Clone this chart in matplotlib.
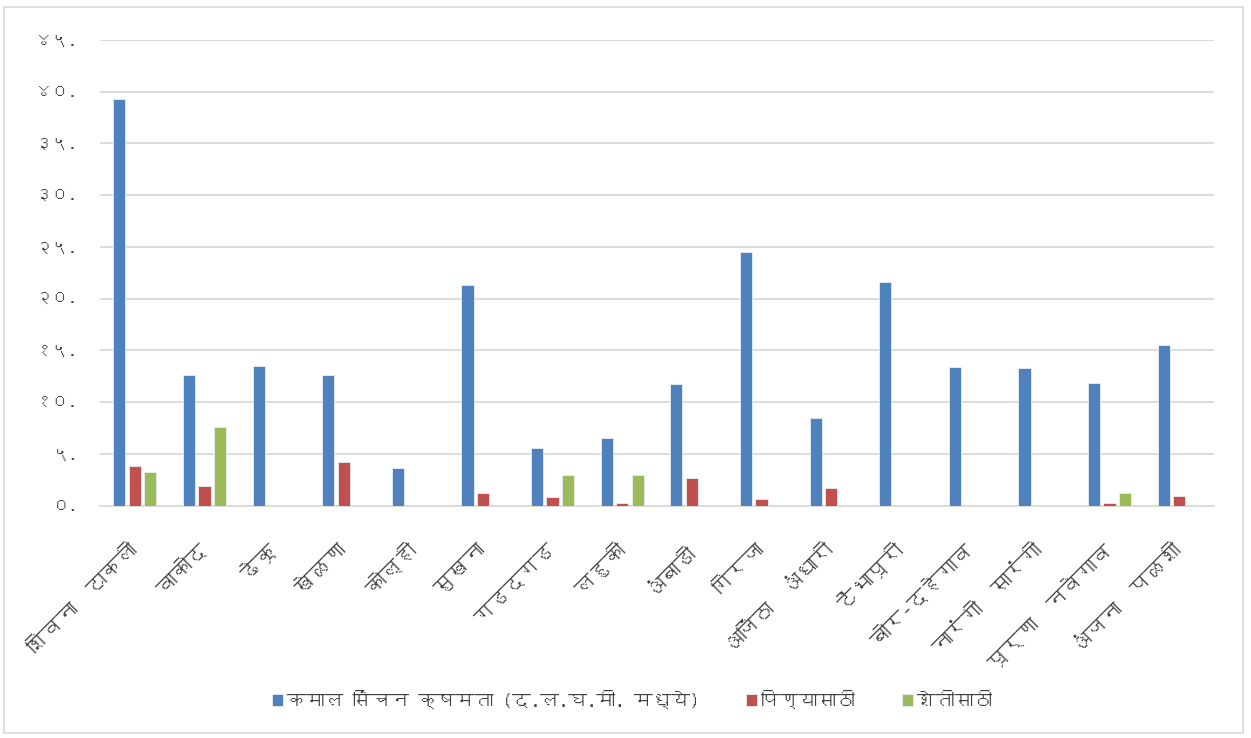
import numpy as np
import matplotlib
matplotlib.use('Agg')
import matplotlib.pyplot as plt
from matplotlib import font_manager
from matplotlib.ft2font import FT2Font
from matplotlib.patches import Rectangle

# data
dams = ['शिवना  टाकली', 'वाकोद', 'ढेकू', 'खेळणा', 'कोल्ही', 'सुखना', 'गडदगड', 'लहुकी',
        'अंबाडी', 'गिरजा', 'अजिंठा  अंधारी', 'टेंभापूरी', 'बोर-दहेगाव', 'नारंगी  सारंगी',
        'पूर्णा  नवेगाव', 'अंजना  पळशी']
capacity = [39.3, 12.6, 13.5, 12.6, 3.6, 21.3, 5.55, 6.55, 11.75, 24.5, 8.5, 21.6, 13.4, 13.3, 11.85, 15.5]
drinking = [3.8, 1.9, 0, 4.2, 0, 1.2, 0.8, 0.23, 2.7, 0.65, 1.7, 0, 0, 0, 0.3, 0.9]
farming = [3.3, 7.65, 0, 0, 0, 0, 3.0, 3.0, 0, 0, 0, 0, 0, 0, 1.2, 0]
series_names = ['कमाल सिंचन क्षमता (द.ल.घ.मी. मध्ये)', 'पिण्यासाठी', 'शेतीसाठी']
ytick_values = [0, 5, 10, 15, 20, 25, 30, 35, 40, 45]
ytick_labels = ['०.', '५.', '१०.', '१५.', '२०.', '२५.', '३०.', '३५.', '४०.', '४५.']


def find_devanagari_font():
    # look for any installed font that has Devanagari glyphs
    for f in font_manager.fontManager.ttflist:
        try:
            cmap = FT2Font(f.fname).get_charmap()
        except Exception:
            continue
        if 0x0915 in cmap and 0x0967 in cmap:
            return f.name
    return None


deva = find_devanagari_font()
families = ['DejaVu Sans']
if deva:
    families = [deva, 'DejaVu Sans']
plt.rcParams['font.family'] = families

colors = ['#4F81BD', '#C0504D', '#9BBB59']
grid_color = '#D9D9D9'
text_color = '#404040'

fig = plt.figure(figsize=(12.51, 7.38), dpi=100)
fig.patches.append(Rectangle((4 / 1251, 5 / 738), 1239 / 1251, 726 / 738, transform=fig.transFigure,
                             fill=False, edgecolor=grid_color, linewidth=1.2))
ax = fig.add_axes([100 / 1251, 232.3 / 738, 1114 / 1251, 465.7 / 738])

x = np.arange(len(dams))
width = 0.175
step = 0.222
for i, vals in enumerate([capacity, drinking, farming]):
    ax.bar(x + (i - 1) * step, vals, width, color=colors[i], edgecolor='#E8EEF6',
           linewidth=0.6, label=series_names[i], zorder=3)

ax.set_xlim(-0.5, len(dams) - 0.5)
ax.set_ylim(0, 45)
ax.set_yticks(ytick_values)
ax.set_yticklabels(ytick_labels, fontsize=12, color=text_color)
ax.yaxis.grid(True, color=grid_color, linewidth=1.3, zorder=0)
ax.tick_params(axis='y', length=0, pad=16)
ax.tick_params(axis='x', length=0, pad=30)
ax.set_xticks(x)
ax.set_xticklabels(dams, rotation=45, ha='right', va='center', rotation_mode='anchor',
                   fontsize=15, color=text_color)
for s in ['top', 'right', 'left']:
    ax.spines[s].set_visible(False)
ax.spines['bottom'].set_color(grid_color)
ax.spines['bottom'].set_linewidth(1.3)

fig.legend(loc='center', bbox_to_anchor=(0.505, 0.052), ncol=3, frameon=False,
           fontsize=13.5, handlelength=0.6, handleheight=0.6, handletextpad=0.2,
           columnspacing=2.5, labelcolor=text_color)

plt.savefig('out.png', dpi=100)
